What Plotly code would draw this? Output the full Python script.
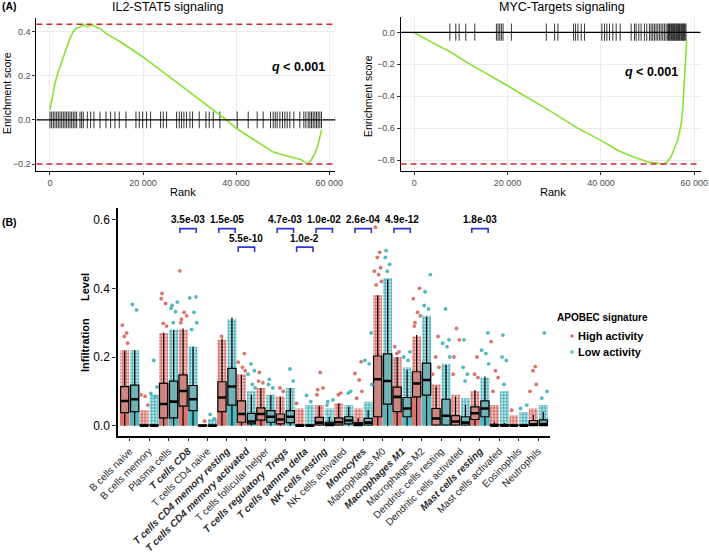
import plotly.graph_objects as go

W, H = 709, 558

# ---------------- Panel A data ----------------
il2_rank = [0, 360, 1070, 1790, 2860, 3580, 4300, 5000, 5700, 6400, 7200, 8000, 9000, 10000,
            11000, 12000, 15000, 20000, 25000, 30000, 35000, 37900, 40000, 45000, 48000, 50000,
            52000, 54000, 55100, 55500, 56000, 57000, 57700, 58350]
il2_es = [0.045, 0.09, 0.166, 0.219, 0.287, 0.332, 0.37, 0.40, 0.415, 0.42, 0.433, 0.422, 0.43,
          0.42, 0.41, 0.392, 0.355, 0.285, 0.205, 0.125, 0.045, 0.0, -0.038, -0.106, -0.146,
          -0.158, -0.169, -0.181, -0.196, -0.2, -0.186, -0.151, -0.106, -0.045]
il2_hits = [0, 358, 716, 1074, 1432, 1790, 2148, 2506, 2864, 3222, 3580, 3938, 4296, 4654, 5012,
            5370, 5728, 6444, 6802, 7160, 8019, 8735, 9451, 10740, 12029, 13031, 13962, 14893,
            16325, 18473, 19189, 19905, 20764, 21623, 23771, 24344, 25060, 27208, 27781, 28282,
            28783, 29356, 30072, 30645, 32077, 33509, 34225, 35084, 36516, 40239, 42602, 44535,
            45824, 47399, 47972, 48402, 48831, 49404, 49977, 50478, 50979, 51552, 52411, 53700,
            54559, 54989, 55490, 55848, 56206, 56564, 56922, 57280, 57638, 57996, 58354]

myc_rank = [0, 3000, 7625, 12000, 19740, 25000, 29000, 35000, 39690, 44000, 46820, 50380, 52000,
            53230, 54000, 55000, 56440, 57200, 57510, 58080, 58360]
myc_es = [0.0, -0.05, -0.121, -0.2, -0.33, -0.42, -0.49, -0.6, -0.672, -0.745, -0.78, -0.815,
          -0.822, -0.825, -0.817, -0.78, -0.675, -0.57, -0.487, -0.215, -0.048]
myc_hits = [7625, 8908, 9620, 11045, 12969, 17601, 17958, 18314, 18670, 19026, 20808, 28290,
            30071, 30784, 34133, 34561, 35059, 35772, 36485, 40190, 40760, 41259, 41829, 42542,
            43255, 44110, 46462, 47174, 47531, 48101, 48600, 49313, 49812, 50381, 50737, 51093,
            51450, 51806, 52162, 52519, 52875, 53231, 53588, 53944, 54300, 54443, 54657, 54799,
            55013, 55156, 55369, 55512, 55725, 55868, 56082, 56225, 56438, 56581, 56794, 56937,
            57151, 57294, 57507, 57650, 57863, 58006, 58219]

rank_ticks = [0, 20000, 40000, 60000]
rank_ticktext = ["0", "20 000", "40 000", "60 000"]
il2_yticks = [-0.2, 0.0, 0.2, 0.4]
il2_yticktext = ["\u22120.2", "0.0", "0.2", "0.4"]
myc_yticks = [-0.8, -0.6, -0.4, -0.2, 0.0]
myc_yticktext = ["\u22120.8", "\u22120.6", "\u22120.4", "\u22120.2", "0.0"]

# ---------------- Panel B data ----------------
cells = ["B cells naive", "B cells memory", "Plasma cells", "T cells CD8", "T cells CD4 naive",
         "T cells CD4 memory resting", "T cells CD4 memory activated", "T cells follicular helper",
         "T cells regulatory  Tregs", "T cells gamma delta", "NK cells resting", "NK cells activated",
         "Monocytes", "Macrophages M0", "Macrophages M1", "Macrophages M2", "Dendritic cells resting",
         "Dendritic cells activated", "Mast cells resting", "Mast cells activated", "Eosinophils",
         "Neutrophils"]
bold_cells = ["T cells CD8", "T cells CD4 memory resting", "T cells CD4 memory activated",
              "T cells regulatory  Tregs", "T cells gamma delta", "NK cells resting", "Monocytes",
              "Macrophages M1", "Mast cells resting"]

# High APOBEC activity
hi_q1 = [0.038, 0, 0.023, 0.057, 0, 0.041, 0.010, 0.016, 0.005, 0, 0.002, 0.002, 0.0, 0.026,
         0.041, 0.084, 0.002, 0.002, 0.018, 0, 0, 0]
hi_med = [0.072, 0, 0.063, 0.101, 0, 0.082, 0.034, 0.034, 0.018, 0, 0.009, 0.010, 0.004, 0.135,
          0.084, 0.123, 0.021, 0.012, 0.036, 0, 0, 0.004]
hi_q3 = [0.114, 0.002, 0.123, 0.148, 0.001, 0.128, 0.072, 0.052, 0.034, 0.002, 0.024, 0.023,
         0.009, 0.203, 0.112, 0.157, 0.050, 0.029, 0.055, 0.004, 0.002, 0.015]
hi_whi = [0.218, 0.005, 0.271, 0.283, 0.002, 0.254, 0.148, 0.109, 0.084, 0.005, 0.057, 0.065,
          0.022, 0.380, 0.200, 0.264, 0.114, 0.084, 0.104, 0.010, 0.005, 0.031]
hi_cloud = [0.22, 0.045, 0.27, 0.28, 0.005, 0.25, 0.15, 0.11, 0.085, 0.05, 0.06, 0.065, 0.05,
            0.38, 0.2, 0.26, 0.12, 0.09, 0.1, 0.06, 0.03, 0.05]
hi_out = [[0.293, 0.27, 0.26, 0.24], [0.09, 0.086, 0.06], [0.385, 0.37, 0.356, 0.298, 0.29],
          [0.451, 0.33, 0.32, 0.31, 0.30], [0.013], [0.26], [0.21, 0.185, 0.17, 0.16],
          [0.155, 0.13, 0.125], [0.11, 0.10], [0.065], [0.155, 0.11, 0.105, 0.09], [0.095, 0.09],
          [0.186, 0.152, 0.133, 0.10, 0.08], [0.578, 0.505, 0.49, 0.46, 0.45, 0.44, 0.42, 0.41],
          [0.23, 0.215, 0.21], [0.40, 0.37, 0.33, 0.32, 0.30, 0.29], [0.26, 0.2, 0.17, 0.15],
          [0.283, 0.25, 0.2, 0.15], [0.2, 0.15, 0.14], [0.245, 0.16, 0.14, 0.1], [0.045],
          [0.172, 0.16, 0.12, 0.1]]

# Low APOBEC activity
lo_q1 = [0.041, 0, 0.023, 0.044, 0, 0.060, 0.005, 0.010, 0.009, 0, 0, 0.005, 0.002, 0.063,
         0.026, 0.089, 0.002, 0.002, 0.026, 0, 0, 0]
lo_med = [0.077, 0, 0.070, 0.077, 0, 0.114, 0.012, 0.026, 0.026, 0, 0.005, 0.015, 0.009, 0.130,
          0.050, 0.133, 0.029, 0.009, 0.050, 0, 0, 0.005]
lo_q3 = [0.118, 0.002, 0.130, 0.117, 0.001, 0.167, 0.036, 0.044, 0.044, 0.002, 0.010, 0.026,
         0.021, 0.209, 0.082, 0.182, 0.077, 0.026, 0.072, 0.003, 0.002, 0.017]
lo_whi = [0.220, 0.005, 0.279, 0.230, 0.002, 0.315, 0.089, 0.089, 0.109, 0.005, 0.026, 0.055,
          0.046, 0.426, 0.162, 0.317, 0.177, 0.060, 0.143, 0.008, 0.005, 0.040]
lo_cloud = [0.22, 0.09, 0.28, 0.23, 0.02, 0.31, 0.10, 0.09, 0.11, 0.06, 0.05, 0.06, 0.07, 0.43,
            0.17, 0.32, 0.18, 0.08, 0.14, 0.10, 0.04, 0.06]
lo_out = [[0.353, 0.337], [0.19, 0.113, 0.094, 0.085], [0.36, 0.35, 0.342, 0.332, 0.30],
          [0.375, 0.372, 0.33, 0.30, 0.28], [0.033, 0.02], [], [0.18, 0.16, 0.15, 0.12, 0.11],
          [0.135, 0.12, 0.11], [0.165, 0.13], [0.088, 0.07], [0.075, 0.07, 0.06], [0.1, 0.095],
          [0.27, 0.19, 0.18, 0.12], [0.51, 0.49, 0.47, 0.45], [0.215, 0.2, 0.19],
          [0.44, 0.39, 0.35, 0.34], [0.34, 0.25, 0.24, 0.23, 0.2], [0.25, 0.17, 0.15, 0.13],
          [0.27, 0.22, 0.21, 0.18], [0.264, 0.2, 0.19, 0.12], [0.06, 0.05], [0.27, 0.1, 0.08]]

sig_cells = ["T cells CD8", "T cells CD4 memory resting", "T cells CD4 memory activated",
             "T cells regulatory  Tregs", "T cells gamma delta", "NK cells resting", "Monocytes",
             "Macrophages M1", "Mast cells resting"]
sig_labels = ["3.5e-03", "1.5e-05", "5.5e-10", "4.7e-03", "1.0e-2", "1.0e-02", "2.6e-04",
              "4.9e-12", "1.8e-03"]
sig_rows = [1, 1, 2, 1, 2, 1, 1, 1, 1]

b_yticks = [0.0, 0.2, 0.4, 0.6]
groups = ["High activity", "Low activity"]

# ---------------- styles ----------------
FONT = "Liberation Sans, Arial, Helvetica, sans-serif"
RED = "#D9756E"
TEAL = "#55B7BE"
RED_BOX = "#CD8781"
TEAL_BOX = "#72B2B7"
GREEN = "#86E234"
DASH_RED = "#D42A2A"
BLUE = "#2E35D8"


def px_x(x):
    return x / W


def px_y(y):
    return 1 - y / H


def segs(xs, lo, hi):
    X, Y = [], []
    for v in xs:
        X += [v, v, None]
        Y += [lo, hi, None]
    return X, Y


fig = go.Figure()

# ---- Panel A: IL2 ----
hx, hy = segs(il2_hits, -0.038, 0.038)
fig.add_trace(go.Scatter(x=hx, y=hy, mode="lines", line=dict(color="rgba(0,0,0,0.8)", width=1),
                         xaxis="x", yaxis="y", showlegend=False, hoverinfo="skip"))
fig.add_trace(go.Scatter(x=il2_rank, y=il2_es, mode="lines", line=dict(color=GREEN, width=1.6),
                         xaxis="x", yaxis="y", showlegend=False))
# ---- Panel A: MYC ----
hx, hy = segs(myc_hits, -0.052, 0.056)
fig.add_trace(go.Scatter(x=hx, y=hy, mode="lines", line=dict(color="rgba(0,0,0,0.8)", width=1),
                         xaxis="x2", yaxis="y2", showlegend=False, hoverinfo="skip"))
fig.add_trace(go.Scatter(x=myc_rank, y=myc_es, mode="lines", line=dict(color=GREEN, width=1.6),
                         xaxis="x2", yaxis="y2", showlegend=False))

# ---- Panel B ----
OFF = 0.256
jit = [-0.12, 0.1, -0.02, 0.15, -0.17, 0.05, 0.19, -0.08]
series = [
    (hi_q1, hi_med, hi_q3, hi_whi, hi_cloud, hi_out, -OFF, RED, RED_BOX, groups[0]),
    (lo_q1, lo_med, lo_q3, lo_whi, lo_cloud, lo_out, OFF, TEAL, TEAL_BOX, groups[1]),
]
n = len(cells)
for q1, med, q3, whi, cloud, outs, off, col, boxcol, name in series:
    pos = [i + off for i in range(n)]
    # dense jittered cloud: solid lower part, dotted upper part
    fig.add_trace(go.Bar(x=pos, y=q3, base=[0] * n, width=0.5, opacity=1,
                         marker=dict(color=col, line=dict(width=0)),
                         xaxis="x3", yaxis="y3", showlegend=False, hoverinfo="skip"))
    up = [max(c - q, 0) for c, q in zip(cloud, q3)]
    fig.add_trace(go.Bar(x=pos, y=up, base=q3, width=0.46, opacity=1,
                         marker=dict(color=col, line=dict(width=0),
                                     pattern=dict(shape=".", fillmode="replace", fgcolor=col,
                                                  bgcolor="rgba(255,255,255,0)", size=3.2,
                                                  solidity=0.75)),
                         xaxis="x3", yaxis="y3", showlegend=False, hoverinfo="skip"))
    ox, oy = [], []
    k = 0
    for i, vals in enumerate(outs):
        for v in vals:
            ox.append(i + off + jit[k % len(jit)])
            oy.append(v)
            k += 1
    fig.add_trace(go.Scatter(x=ox, y=oy, mode="markers", marker=dict(color=col, size=3.8),
                             xaxis="x3", yaxis="y3", showlegend=False, name=name))
    fig.add_trace(go.Box(x=pos, q1=q1, median=med, q3=q3, lowerfence=[0] * n, upperfence=whi,
                         width=0.42, whiskerwidth=0, boxpoints=False, fillcolor=boxcol,
                         line=dict(color="black", width=1.2), xaxis="x3", yaxis="y3",
                         showlegend=False, name=name, hoverinfo="skip"))
    mx, my = [], []
    for p, m in zip(pos, med):
        mx += [p - 0.21, p + 0.21, None]
        my += [m, m, None]
    fig.add_trace(go.Scatter(x=mx, y=my, mode="lines", line=dict(color="black", width=2.6),
                             xaxis="x3", yaxis="y3", showlegend=False, hoverinfo="skip"))

# significance brackets
row_y = {1: (0.574, 0.561, 0.578), 2: (0.520, 0.506, 0.524)}
bx, by = [], []
annotations = []
for cname, lab, row in zip(sig_cells, sig_labels, sig_rows):
    i = cells.index(cname)
    top, leg, ly = row_y[row]
    x0, x1 = i - 0.42, i + 0.42
    bx += [x0, x0, x1, x1, None]
    by += [leg, top, top, leg, None]
    annotations.append(dict(x=i, y=ly, xref="x3", yref="y3", text=f"<b>{lab}</b>", showarrow=False,
                            yanchor="bottom", font=dict(family=FONT, size=10, color="black")))
fig.add_trace(go.Scatter(x=bx, y=by, mode="lines", line=dict(color=BLUE, width=1.6),
                         xaxis="x3", yaxis="y3", showlegend=False, hoverinfo="skip"))

ticktext_b = [f"<b><i>{c}</i></b>" if c in bold_cells else c for c in cells]

# ---------------- layout ----------------
shapes = [
    dict(type="line", xref="x domain", yref="y", x0=0, x1=1, y0=0, y1=0,
         line=dict(color="black", width=1.3), layer="above"),
    dict(type="line", xref="x domain", yref="y", x0=0, x1=1, y0=max(il2_es), y1=max(il2_es),
         line=dict(color=DASH_RED, width=1.5, dash="6px,4px")),
    dict(type="line", xref="x domain", yref="y", x0=0, x1=1, y0=min(il2_es), y1=min(il2_es),
         line=dict(color=DASH_RED, width=1.5, dash="6px,4px")),
    dict(type="line", xref="x2 domain", yref="y2", x0=0, x1=1, y0=0, y1=0,
         line=dict(color="black", width=1.3), layer="above"),
    dict(type="line", xref="x2 domain", yref="y2", x0=0, x1=1, y0=min(myc_es), y1=min(myc_es),
         line=dict(color=DASH_RED, width=1.5, dash="6px,4px")),
]
# manual legend markers
for yy, col in zip([336, 352], [RED, TEAL]):
    shapes.append(dict(type="circle", xref="paper", yref="paper",
                       x0=px_x(570.3), x1=px_x(573.7), y0=px_y(yy + 1.7), y1=px_y(yy - 1.7),
                       fillcolor=col, line=dict(width=0)))


def txt(x, y, s, size, anchor="center", angle=0, color="black", bold=False, yanchor="middle"):
    return dict(x=px_x(x), y=px_y(y), xref="paper", yref="paper", text=f"<b>{s}</b>" if bold else s,
                showarrow=False, xanchor=anchor, yanchor=yanchor, textangle=angle,
                font=dict(family=FONT, size=size, color=color))


annotations += [
    txt(0, 6, "(A)", 10.5, anchor="left", bold=True),
    txt(0, 222, "(B)", 10.5, anchor="left", bold=True),
    txt(167, 7, "IL2-STAT5 signaling", 12.5),
    txt(562, 7, "MYC-Targets signaling", 12.5),
    txt(7, 93, "Enrichment score", 10.5, angle=-90),
    txt(368, 96, "Enrichment score", 10.5, angle=-90),
    txt(183, 192, "Rank", 11),
    txt(553, 192, "Rank", 11),
    txt(298, 67, "<i>q</i> < 0.001", 12.5, bold=True),
    txt(651, 72, "<i>q</i> < 0.001", 12.5, bold=True),
    txt(85, 345, "Infiltration", 11, angle=-90, bold=True),
    txt(85, 287, "Level", 11, angle=-90, bold=True),
    txt(555, 317, "APOBEC signature", 10, anchor="left", bold=True),
    txt(576, 336, groups[0], 11, anchor="left", bold=True),
    txt(576, 352, groups[1], 11, anchor="left", bold=True),
]

axA = dict(showline=True, linecolor="black", linewidth=1.2, showgrid=True, gridcolor="#EBEBEB",
           gridwidth=1, zeroline=False, ticks="outside", ticklen=3, tickcolor="#333",
           tickfont=dict(family=FONT, size=9, color="#4D4D4D"), automargin=False,
           ticklabeloverflow="allow")

fig.update_layout(
    width=W, height=H, margin=dict(l=0, r=0, t=0, b=0),
    paper_bgcolor="white", plot_bgcolor="white",
    barmode="overlay", boxmode="overlay", showlegend=False,
    xaxis=dict(axA, domain=[px_x(36.4), px_x(335.3)], range=[-2920, 61320], anchor="y",
               tickvals=rank_ticks, ticktext=rank_ticktext),
    yaxis=dict(axA, domain=[px_y(171), px_y(18)], range=[-0.2315, 0.4615], anchor="x",
               tickvals=il2_yticks, ticktext=il2_yticktext),
    xaxis2=dict(axA, domain=[px_x(400.6), px_x(700.5)], range=[-2920, 61320], anchor="y2",
                tickvals=rank_ticks, ticktext=rank_ticktext),
    yaxis2=dict(axA, domain=[px_y(171), px_y(16.5)], range=[-0.869, 0.1], anchor="x2",
                tickvals=myc_yticks, ticktext=myc_yticktext),
    xaxis3=dict(domain=[px_x(118), px_x(550)], range=[-0.6, 21.6], anchor="y3",
                showline=True, linecolor="black", linewidth=1.5, showgrid=False, zeroline=False,
                ticks="outside", ticklen=4, tickcolor="#333", tickvals=list(range(n)),
                ticktext=ticktext_b, tickangle=-45, ticklabeloverflow="allow",
                tickfont=dict(family=FONT, size=10, color="#2a2a2a"), automargin=False),
    yaxis3=dict(domain=[px_y(435.7), px_y(208)], range=[-0.0292, 0.634], anchor="x3",
                showline=True, linecolor="black", linewidth=1.5, showgrid=False, zeroline=False,
                ticks="outside", ticklen=4, tickcolor="#333", tickvals=b_yticks,
                ticktext=["0.0", "0.2", "0.4", "0.6"],
                tickfont=dict(family=FONT, size=12, color="black"), automargin=False),
    shapes=shapes, annotations=annotations,
)

fig.write_html("out.html", config={"displayModeBar": False},
               post_script="document.body.style.margin='0px';")
